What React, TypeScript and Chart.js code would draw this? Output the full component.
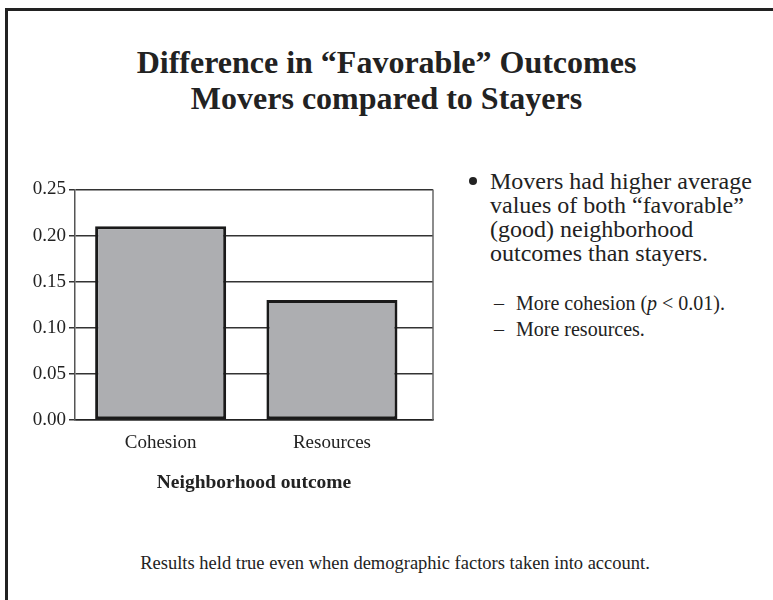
import React, { useEffect, useRef } from "react";
import { Chart, registerables } from "chart.js";

Chart.register(...registerables);

// ---- data ----
const categories: string[] = ["Cohesion", "Resources"];
const values: number[] = [0.21, 0.13];
const yTicks: number[] = [0, 0.05, 0.1, 0.15, 0.2, 0.25];
const axisTitle = "Neighborhood outcome";
const titleLines: string[] = ["Difference in \u201CFavorable\u201D Outcomes", "Movers compared to Stayers"];
const bulletLines: string[] = [
  "Movers had higher average",
  "values of both \u201Cfavorable\u201D",
  "(good) neighborhood",
  "outcomes than stayers.",
];
const footer = "Results held true even when demographic factors taken into account.";

const SERIF = '"Liberation Serif", "Times New Roman", Times, serif';

const rightBorder = {
  id: "rightBorder",
  afterDraw(chart: any) {
    const { ctx, chartArea } = chart;
    ctx.save();
    ctx.strokeStyle = "#666";
    ctx.lineWidth = 1.5;
    ctx.beginPath();
    ctx.moveTo(chartArea.right, chartArea.top);
    ctx.lineTo(chartArea.right, chartArea.bottom);
    ctx.stroke();
    ctx.restore();
  },
};

function BarChart() {
  const ref = useRef<HTMLCanvasElement>(null);
  useEffect(() => {
    if (!ref.current) return;
    const chart = new Chart(ref.current, {
      type: "bar",
      data: {
        datasets: [
          {
            data: values.map((v, i) => ({ x: i, y: v })),
            backgroundColor: "#adaeb1",
            borderColor: "#1a1a1a",
            borderWidth: 3,
            borderSkipped: false,
            barPercentage: 0.765,
            categoryPercentage: 1,
          } as any,
        ],
      },
      options: {
        animation: false,
        responsive: false,
        maintainAspectRatio: false,
        layout: { padding: { top: 14, right: 17, left: 0, bottom: 0 } },
        plugins: { legend: { display: false }, tooltip: { enabled: false } },
        scales: {
          x: {
            type: "linear",
            offset: false,
            min: -0.5,
            max: 1.59,
            afterBuildTicks: (s: any) => {
              s.ticks = categories.map((_, i) => ({ value: i }));
            },
            afterFit: (s: any) => {
              s.height = 75;
            },
            ticks: {
              callback: (v: any) => categories[v] ?? "",
              font: { family: SERIF, size: 19 },
              color: "#222",
              padding: 12,
              maxRotation: 0,
              autoSkip: false,
            },
            grid: { display: true, offset: false, drawOnChartArea: false, drawTicks: false },
            border: { color: "#222", width: 1.5 },
            title: {
              display: true,
              text: axisTitle,
              font: { family: SERIF, size: 19.5, weight: "bold" },
              color: "#222",
              padding: { top: 4, bottom: 0 },
            },
          },
          y: {
            min: 0,
            max: 0.25,
            afterBuildTicks: (s: any) => {
              s.ticks = yTicks.map((v) => ({ value: v }));
            },
            afterFit: (s: any) => {
              s.width = 75;
            },
            ticks: {
              callback: (v: any) => Number(v).toFixed(2),
              font: { family: SERIF, size: 19 },
              color: "#222",
              padding: 3,
            },
            grid: { color: "#333", lineWidth: 1.5, tickLength: 6 },
            border: { color: "#555", width: 1.5 },
          },
        },
      } as any,
      plugins: [rightBorder],
    });
    return () => chart.destroy();
  }, []);
  return (
    <canvas
      ref={ref}
      width={450}
      height={320}
      style={{ position: "absolute", left: 0, top: 175, width: 450, height: 320 }}
    />
  );
}

export default function App() {
  return (
    <div
      style={{
        position: "absolute",
        left: 0,
        top: 0,
        width: 773,
        height: 600,
        background: "#fff",
        overflow: "hidden",
        fontFamily: SERIF,
        color: "#222",
      }}
    >
      <div
        style={{
          position: "absolute",
          left: 5,
          top: 8,
          right: -20,
          bottom: -20,
          borderTop: "3px solid #222",
          borderLeft: "3px solid #222",
        }}
      />
      <div
        style={{
          position: "absolute",
          left: 0,
          top: 44,
          width: 773,
          textAlign: "center",
          fontWeight: "bold",
          fontSize: 32,
          lineHeight: "36px",
        }}
      >
        {titleLines.map((t) => (
          <div key={t}>{t}</div>
        ))}
      </div>
      <BarChart />
      <div
        style={{
          position: "absolute",
          left: 469,
          top: 177,
          width: 8,
          height: 8,
          borderRadius: 4,
          background: "#222",
        }}
      />
      <div
        style={{
          position: "absolute",
          left: 490,
          top: 169,
          fontSize: 24,
          lineHeight: "24px",
          whiteSpace: "nowrap",
        }}
      >
        {bulletLines.map((t) => (
          <div key={t}>{t}</div>
        ))}
      </div>
      <div
        style={{
          position: "absolute",
          left: 494,
          top: 290,
          fontSize: 20,
          lineHeight: "26px",
          whiteSpace: "nowrap",
        }}
      >
        <div>
          <span style={{ display: "inline-block", width: 22 }}>{"\u2013"}</span>More cohesion (<i>p</i> &lt; 0.01).
        </div>
        <div>
          <span style={{ display: "inline-block", width: 22 }}>{"\u2013"}</span>More resources.
        </div>
      </div>
      <div
        style={{
          position: "absolute",
          left: 0,
          top: 551,
          width: 790,
          textAlign: "center",
          fontSize: 18.5,
          lineHeight: "24px",
          whiteSpace: "nowrap",
        }}
      >
        {footer}
      </div>
    </div>
  );
}
